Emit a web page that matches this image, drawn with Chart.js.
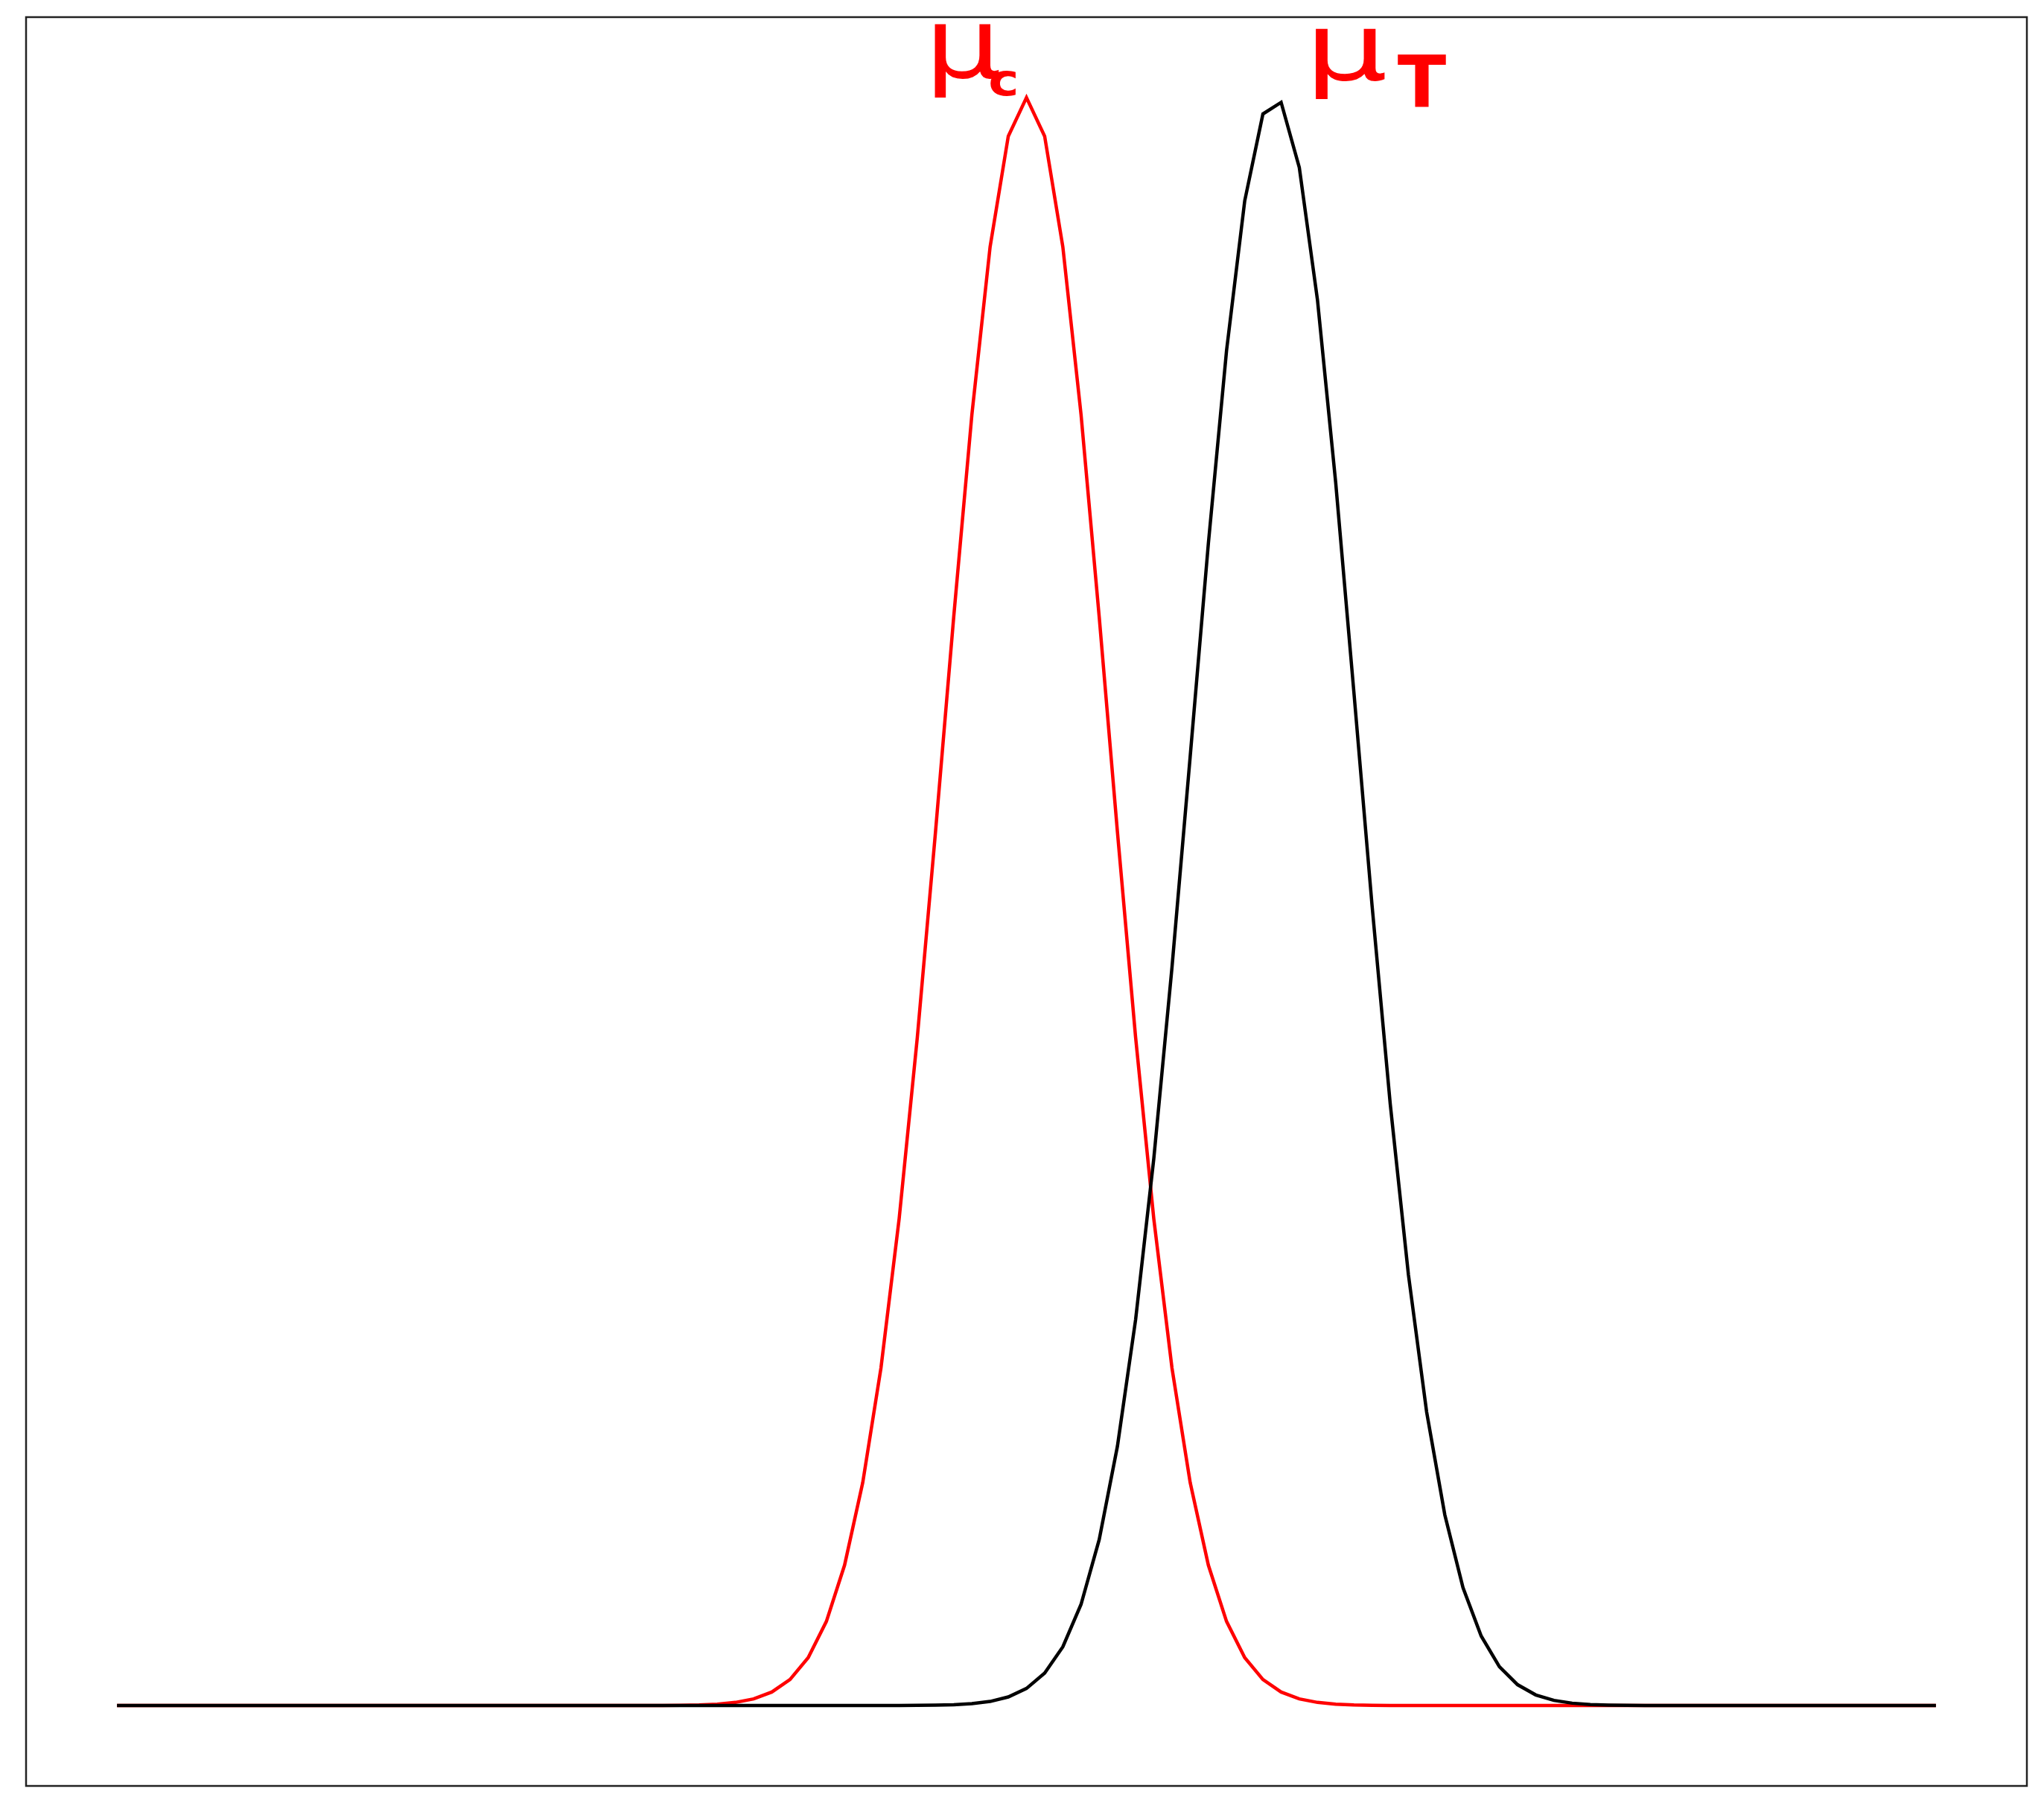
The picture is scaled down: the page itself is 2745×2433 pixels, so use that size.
<!DOCTYPE html>
<html>
<head>
<meta charset="utf-8">
<script src="https://cdn.jsdelivr.net/npm/chart.js@4.4.0/dist/chart.umd.min.js"></script>
<style>
  html, body { margin: 0; padding: 0; background: #fff; }
  #chart { display: block; }
</style>
</head>
<body>
<canvas id="chart" width="2745" height="2433"></canvas>
<script>
// sample positions along x
const xs = [
  0, 1, 2, 3, 4, 5, 6, 7, 8, 9, 10, 11, 12, 13, 14, 15, 16, 17, 18, 19,
  20, 21, 22, 23, 24, 25, 26, 27, 28, 29, 30, 31, 32, 33, 34, 35, 36, 37, 38, 39,
  40, 41, 42, 43, 44, 45, 46, 47, 48, 49, 50, 51, 52, 53, 54, 55, 56, 57, 58, 59,
  60, 61, 62, 63, 64, 65, 66, 67, 68, 69, 70, 71, 72, 73, 74, 75, 76, 77, 78, 79,
  80, 81, 82, 83, 84, 85, 86, 87, 88, 89, 90, 91, 92, 93, 94, 95, 96, 97, 98, 99, 100
];

// red curve (mu_c)
const controlValues = [
  0, 0, 0, 0, 0, 0, 0, 0, 0, 0, 0, 0, 0, 0, 0, 0, 0, 0, 0, 0,
  0, 0, 0, 0, 0, 0, 0, 0,
  0.0000074, 0.0000213, 0.000058, 0.00015, 0.00037, 0.000868, 0.00194, 0.00414,
  0.00839, 0.0162, 0.0298, 0.0523, 0.0873, 0.1387, 0.2099, 0.3027, 0.4156,
  0.5434, 0.6769, 0.8029, 0.9071, 0.9759, 1.0, 0.9759, 0.9071, 0.8029, 0.6769,
  0.5434, 0.4156, 0.3027, 0.2099, 0.1387, 0.0873, 0.0523, 0.0298, 0.0162,
  0.00839, 0.00414, 0.00194, 0.000868, 0.00037, 0.00015, 0.000058, 0.0000213, 0.0000074,
  0, 0, 0, 0, 0, 0, 0, 0, 0, 0, 0, 0, 0, 0, 0, 0, 0, 0, 0, 0,
  0, 0, 0, 0, 0, 0, 0, 0
];

// black curve (mu_T)
const treatmentValues = [
  0, 0, 0, 0, 0, 0, 0, 0, 0, 0, 0, 0, 0, 0, 0, 0, 0, 0, 0, 0,
  0, 0, 0, 0, 0, 0, 0, 0, 0, 0, 0, 0, 0, 0, 0, 0, 0, 0, 0, 0,
  0, 0, 0,
  0.00003, 0.00008, 0.00021, 0.0005, 0.00116, 0.00254, 0.00533, 0.0106,
  0.0202, 0.0365, 0.0629, 0.1032, 0.1612, 0.2399, 0.3401, 0.459, 0.5901,
  0.7226, 0.8426, 0.9358, 0.9898, 0.997, 0.9565, 0.874, 0.7606, 0.6303,
  0.4975, 0.374, 0.2678, 0.1826, 0.1186, 0.0733, 0.0432, 0.0242, 0.01295,
  0.00659, 0.00319, 0.00147, 0.00065, 0.00027, 0.00011, 0.00004, 0.000015,
  0, 0, 0, 0, 0, 0, 0, 0, 0, 0, 0, 0, 0, 0, 0
];

// handwritten-style labels, anchored in data units
const labelTexts = [
  { text: "\u03BC", x: 44.4,  y: 1.0127, size: 130, stretch: 1.25, weight: 'normal' },
  { text: "c",      x: 47.9,  y: 1.0016, size: 58,  stretch: 1.2,  weight: 'bold' },
  { text: "\u03BC", x: 65.3,  y: 1.0109, size: 125, stretch: 1.4,  weight: 'normal' },
  { text: "T",      x: 70.4,  y: 0.9938, size: 96,  stretch: 1.0,  weight: 'bold' }
];

function toPoints(values) {
  return xs.map((x, i) => ({ x: x, y: values[i] }));
}

const framePlugin = {
  id: 'frame',
  afterDraw(chart) {
    const ctx = chart.ctx;
    const a = chart.chartArea;
    ctx.save();
    ctx.strokeStyle = '#222';
    ctx.lineWidth = 2.5;
    ctx.strokeRect(a.left, a.top, a.right - a.left, a.bottom - a.top);

    const sx = chart.scales.x;
    const sy = chart.scales.y;
    ctx.fillStyle = '#ff0000';
    ctx.textAlign = 'left';
    ctx.textBaseline = 'alphabetic';
    labelTexts.forEach(l => {
      ctx.save();
      ctx.translate(sx.getPixelForValue(l.x), sy.getPixelForValue(l.y));
      ctx.scale(l.stretch, 1);
      ctx.font = l.weight + ' ' + l.size + 'px "DejaVu Sans"';
      ctx.fillText(l.text, 0, 0);
      ctx.restore();
    });
    ctx.restore();
  }
};

const ctx = document.getElementById('chart').getContext('2d');
new Chart(ctx, {
  type: 'line',
  data: {
    datasets: [
      {
        label: 'treatment',
        data: toPoints(treatmentValues),
        borderColor: '#000000',
        borderWidth: 4.5,
        pointRadius: 0,
        tension: 0,
        fill: false,
        borderJoinStyle: 'miter',
        order: 1
      },
      {
        label: 'control',
        data: toPoints(controlValues),
        borderColor: '#ff0000',
        borderWidth: 4.5,
        pointRadius: 0,
        tension: 0,
        fill: false,
        borderJoinStyle: 'miter',
        order: 2
      }
    ]
  },
  options: {
    responsive: false,
    animation: false,
    layout: { padding: { left: 35, top: 23, right: 23, bottom: 35 } },
    plugins: {
      legend: { display: false },
      tooltip: { enabled: false }
    },
    scales: {
      x: { type: 'linear', min: -5, max: 105, display: false },
      y: { type: 'linear', min: -0.05, max: 1.05, display: false }
    }
  },
  plugins: [framePlugin]
});
</script>
</body>
</html>
